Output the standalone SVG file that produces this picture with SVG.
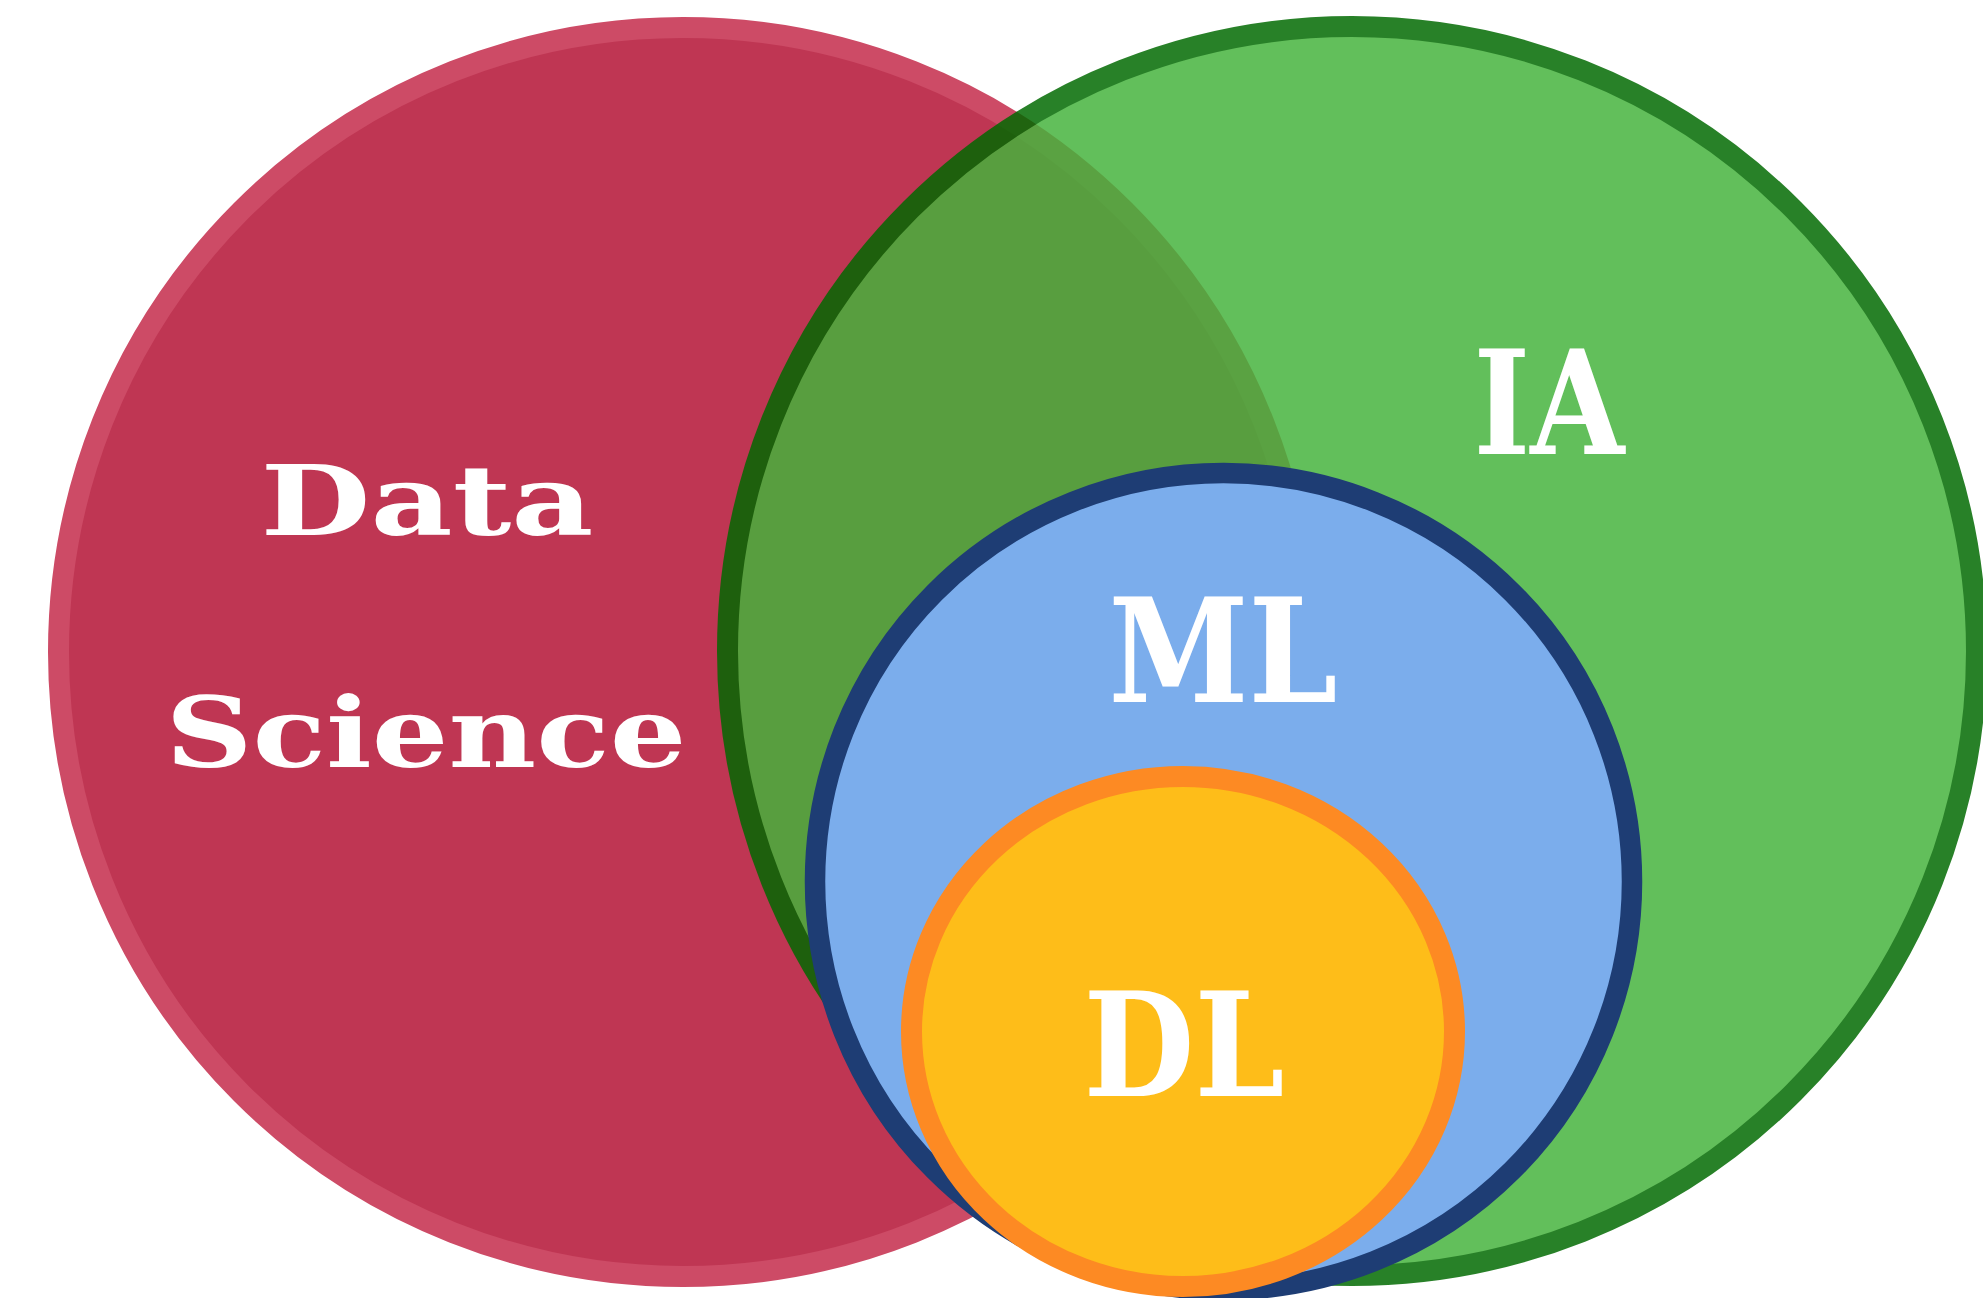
<svg xmlns="http://www.w3.org/2000/svg" width="1983" height="1298" viewBox="0 0 1983 1298">
  <style>
    .lbl { font-family: "DejaVu Serif", "Liberation Serif", serif; font-weight: bold; fill: #ffffff; text-anchor: middle; }
    .small { font-size: 97px; }
    .big { font-size: 144px; }
  </style>
  <rect x="0" y="0" width="1983" height="1298" fill="#ffffff"/>
  <g id="node-data-science">
    <circle cx="683" cy="652" r="624.5" fill="#bf3653" stroke="#cd4b66" stroke-width="21"/>
    <text class="lbl small" x="427" y="535" textLength="333" lengthAdjust="spacingAndGlyphs">Data</text>
    <text class="lbl small" x="426" y="767" textLength="521" lengthAdjust="spacingAndGlyphs">Science</text>
  </g>
  <g id="node-ia">
    <circle cx="1352" cy="651" r="624.5" fill="#45b33c" stroke="#006900" stroke-width="21" opacity="0.84"/>
    <text class="lbl big" x="1549" y="454" textLength="151" lengthAdjust="spacingAndGlyphs">IA</text>
  </g>
  <g id="node-ml">
    <circle cx="1223.5" cy="881.5" r="408.5" fill="#7badec" stroke="#1e3d74" stroke-width="20.5"/>
    <text class="lbl big" x="1223" y="702" textLength="229" lengthAdjust="spacingAndGlyphs">ML</text>
  </g>
  <g id="node-dl">
    <ellipse cx="1183" cy="1031.5" rx="271.5" ry="255" fill="#febd19" stroke="#fd8a23" stroke-width="21"/>
    <text class="lbl big" x="1184" y="1096" textLength="201" lengthAdjust="spacingAndGlyphs">DL</text>
  </g>
  <g id="connectors"/>
</svg>
